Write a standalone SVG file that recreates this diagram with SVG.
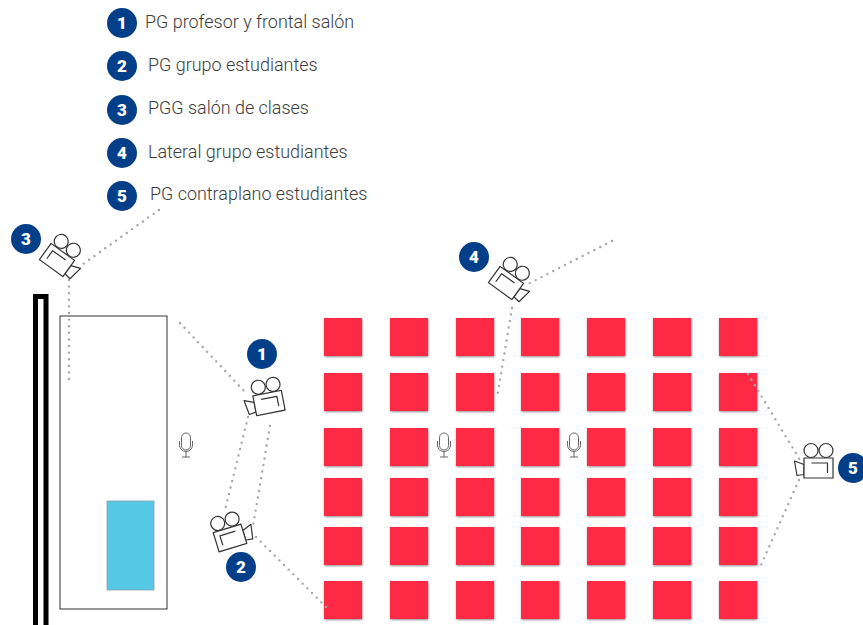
<svg xmlns="http://www.w3.org/2000/svg" width="863" height="625" viewBox="0 0 863 625">
<style>
.badge{fill:#033f88}
.num{font:900 17px "Roboto","Liberation Sans",sans-serif;fill:#fff;text-anchor:middle}
.leg{font:300 17.95px "Roboto","Liberation Sans",sans-serif;fill:#3c3c3c}
.dot{fill:none;stroke:#a6a6a6;stroke-width:2.4;stroke-linecap:round;stroke-dasharray:0 6.6}
.cam{fill:#fff;stroke:#333;stroke-width:1.2;stroke-linejoin:round}
.mic{fill:none;stroke:#666;stroke-width:1}
.seat{fill:#fe2a45;filter:url(#sh)}
</style>
<defs>
<filter id="sh" x="-10%" y="-10%" width="125%" height="125%"><feDropShadow dx="0.5" dy="1" stdDeviation="0.8" flood-color="#000" flood-opacity="0.45"/></filter>
<g id="camera">
<circle cx="-7.500" cy="-17.500" r="7"/><circle cx="7.500" cy="-17.500" r="7"/>
<path d="M-14.500 -3.500L-24 -7L-21.500 7.500L-14.500 6.500Z"/>
<rect x="-14.500" y="-10" width="29" height="20"/>
<path d="M-7 -5H9V5" fill="none"/>
</g>
<g id="mic">
<rect x="-4.500" y="-13" width="9" height="17" rx="4.500"/>
<path d="M-6.500 -5V-1A6.500 6.500 0 0 0 6.500 -1V-5M0 5.500V11M-4 11H4"/>
</g>
<rect id="s" class="seat" width="38" height="38"/>
</defs>

<g id="wall"><rect x="35.500" y="296.500" width="10.500" height="340" fill="#fff" stroke="#000" stroke-width="5"/></g>
<g id="room"><rect x="60" y="316" width="107" height="293" fill="#fff" stroke="#333" stroke-width="1"/></g>
<g id="screen"><rect x="107" y="501" width="47" height="89" fill="#55c8e6" stroke="#8a9ea6" stroke-width="0.8"/></g>

<g id="seats">
<use href="#s" x="324" y="318"/><use href="#s" x="390" y="318"/><use href="#s" x="456" y="318"/><use href="#s" x="521" y="318"/><use href="#s" x="587" y="318"/><use href="#s" x="653" y="318"/><use href="#s" x="719" y="318"/>
<use href="#s" x="324" y="373"/><use href="#s" x="390" y="373"/><use href="#s" x="456" y="373"/><use href="#s" x="521" y="373"/><use href="#s" x="587" y="373"/><use href="#s" x="653" y="373"/><use href="#s" x="719" y="373"/>
<use href="#s" x="324" y="428"/><use href="#s" x="390" y="428"/><use href="#s" x="456" y="428"/><use href="#s" x="521" y="428"/><use href="#s" x="587" y="428"/><use href="#s" x="653" y="428"/><use href="#s" x="719" y="428"/>
<use href="#s" x="324" y="478"/><use href="#s" x="390" y="478"/><use href="#s" x="456" y="478"/><use href="#s" x="521" y="478"/><use href="#s" x="587" y="478"/><use href="#s" x="653" y="478"/><use href="#s" x="719" y="478"/>
<use href="#s" x="324" y="527"/><use href="#s" x="390" y="527"/><use href="#s" x="456" y="527"/><use href="#s" x="521" y="527"/><use href="#s" x="587" y="527"/><use href="#s" x="653" y="527"/><use href="#s" x="719" y="527"/>
<use href="#s" x="324" y="581"/><use href="#s" x="390" y="581"/><use href="#s" x="456" y="581"/><use href="#s" x="521" y="581"/><use href="#s" x="587" y="581"/><use href="#s" x="653" y="581"/><use href="#s" x="719" y="581"/>
</g>

<g id="connectors">
<path class="dot" d="M159 210L79 267"/>
<path class="dot" d="M69 280V380"/>
<path class="dot" d="M180 323L246 393"/>
<path class="dot" d="M248 417L225 510"/>
<path class="dot" d="M270 426L253 526"/>
<path class="dot" d="M256 537L327 608"/>
<path class="dot" d="M612 241L528 284"/>
<path class="dot" d="M512 308L497 398"/>
<path class="dot" d="M748 374L800 460"/>
<path class="dot" d="M799 480L761 565"/>
</g>

<g id="mics">
<use href="#mic" class="mic" x="186" y="446"/>
<use href="#mic" class="mic" x="444" y="446"/>
<use href="#mic" class="mic" x="574" y="446"/>
</g>

<g id="legend-1"><circle class="badge" cx="122" cy="23" r="15"/><text class="num" x="122" y="29">1</text><text class="leg" x="145" y="27.500">PG profesor y frontal salón</text></g>
<g id="legend-2"><circle class="badge" cx="122" cy="66" r="15"/><text class="num" x="122" y="72">2</text><text class="leg" x="148" y="71">PG grupo estudiantes</text></g>
<g id="legend-3"><circle class="badge" cx="122" cy="110" r="15"/><text class="num" x="122" y="116">3</text><text class="leg" x="148" y="114">PGG salón de clases</text></g>
<g id="legend-4"><circle class="badge" cx="122" cy="153" r="15"/><text class="num" x="122" y="159">4</text><text class="leg" x="148" y="158">Lateral grupo estudiantes</text></g>
<g id="legend-5"><circle class="badge" cx="122" cy="196" r="15"/><text class="num" x="122" y="202">5</text><text class="leg" x="150" y="200">PG contraplano estudiantes</text></g>

<g id="camera-1"><use href="#camera" class="cam" transform="translate(269 403) rotate(-11)"/><circle class="badge" cx="262" cy="354" r="15"/><text class="num" x="262" y="360">1</text></g>
<g id="camera-2"><use href="#camera" class="cam" transform="translate(230 538) rotate(-17) scale(-1 1)"/><circle class="badge" cx="241" cy="567" r="15"/><text class="num" x="241" y="573">2</text></g>
<g id="camera-3"><use href="#camera" class="cam" transform="translate(57 260) rotate(36) scale(-1 1)"/><circle class="badge" cx="26" cy="239" r="15"/><text class="num" x="26" y="245">3</text></g>
<g id="camera-4"><use href="#camera" class="cam" transform="translate(506 283) rotate(36) scale(-1 1)"/><circle class="badge" cx="474" cy="257" r="15"/><text class="num" x="474" y="263">4</text></g>
<g id="camera-5"><use href="#camera" class="cam" transform="translate(818.500 468)"/><circle class="badge" cx="853" cy="468" r="15"/><text class="num" x="853" y="474">5</text></g>
</svg>
